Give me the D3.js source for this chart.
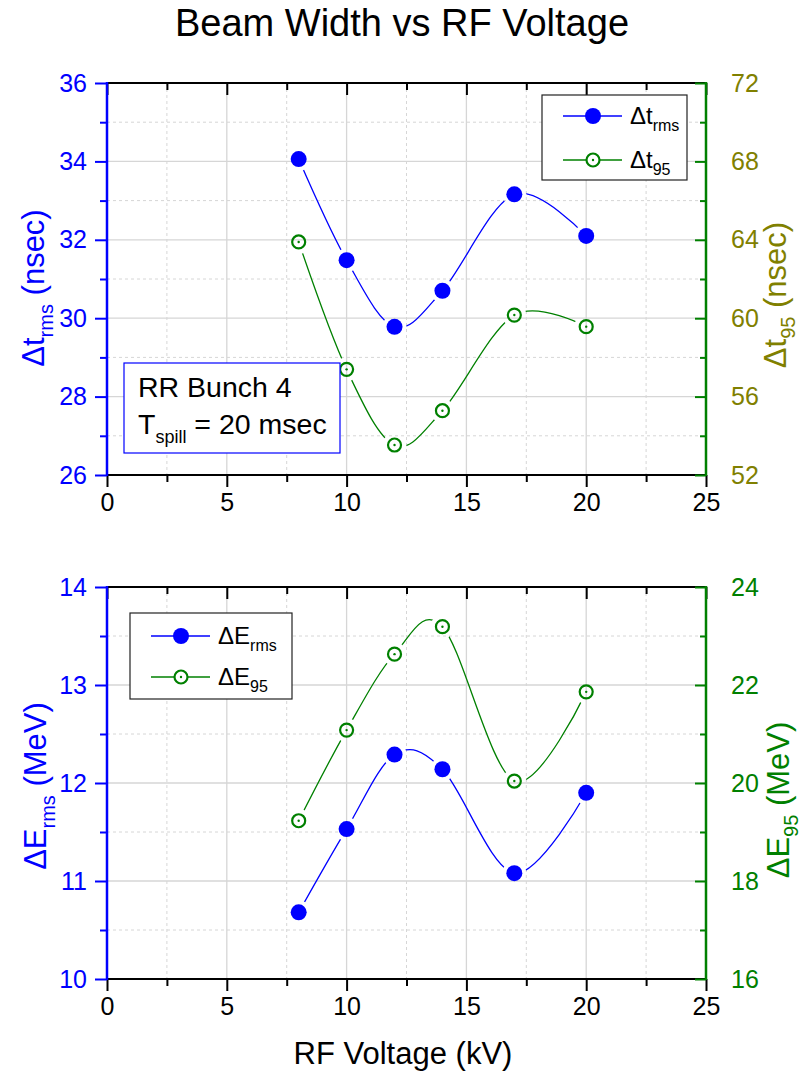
<!DOCTYPE html>
<html>
<head>
<meta charset="utf-8">
<script src="https://cdn.jsdelivr.net/npm/d3@7"></script>
<style>
  html, body { margin: 0; padding: 0; background: #fff; }
  svg { display: block; font-family: "Liberation Sans", Arial, sans-serif; }
</style>
</head>
<body>
<svg id="chart" width="805" height="1075"></svg>
<script>
// ---- data ----
const voltage = [8, 10, 12, 14, 17, 20];
const dtRms   = [34.06, 31.48, 29.78, 30.70, 33.16, 32.10];
const dt95    = [63.89, 57.39, 53.53, 55.28, 60.16, 59.57];
const dERms   = [10.68, 11.53, 12.29, 12.14, 11.08, 11.90];
const dE95    = [19.23, 21.08, 22.63, 23.19, 20.04, 21.86];

const xTicks = [0, 5, 10, 15, 20, 25];
const xMinor = [2.5, 7.5, 12.5, 17.5, 22.5];
const tLeftTicks  = [26, 28, 30, 32, 34, 36];
const tLeftMinor  = [27, 29, 31, 33, 35];
const tRightTicks = [52, 56, 60, 64, 68, 72];
const tRightMinor = [54, 58, 62, 66, 70];
const eLeftTicks  = [10, 11, 12, 13, 14];
const eLeftMinor  = [10.5, 11.5, 12.5, 13.5];
const eRightTicks = [16, 18, 20, 22, 24];
const eRightMinor = [17, 19, 21, 23];

const chartTitle = "Beam Width vs RF Voltage";
const xTitle = "RF Voltage (kV)";

// ---- layout ----
const svg = d3.select("#chart");
const X0 = 107, X1 = 706;
const BLUE = "#0000ff", GREEN = "#008000", OLIVE = "#808000";
const FONT_TICK = 25;

const x = d3.scaleLinear().domain([0, 25]).range([X0, X1]);

svg.append("text").attr("x", 402).attr("y", 36).attr("text-anchor", "middle")
  .attr("font-size", 38).attr("fill", "#000").text(chartTitle);

svg.append("text").attr("x", 403).attr("y", 1064).attr("text-anchor", "middle")
  .attr("font-size", 31).attr("fill", "#000").text(xTitle);

function subText(sel, main, sub, rest, size, subSize) {
  sel.append("tspan").text(main);
  sel.append("tspan").attr("font-size", subSize).attr("dy", size * 0.3).text(sub);
  if (rest) sel.append("tspan").attr("dy", -size * 0.3).text(rest);
}

let maskId = 0;
function panel(cfg) {
  const g = svg.append("g");
  const yL = d3.scaleLinear().domain(cfg.leftDomain).range([cfg.y1, cfg.y0]);
  const yR = d3.scaleLinear().domain(cfg.rightDomain).range([cfg.y1, cfg.y0]);

  // grid
  const grid = g.append("g");
  xMinor.forEach(v => grid.append("line").attr("x1", x(v)).attr("x2", x(v))
    .attr("y1", cfg.y0).attr("y2", cfg.y1).attr("stroke", "#d6d6d6").attr("stroke-dasharray", "3,3"));
  cfg.leftMinor.forEach(v => grid.append("line").attr("x1", X0).attr("x2", X1)
    .attr("y1", yL(v)).attr("y2", yL(v)).attr("stroke", "#d6d6d6").attr("stroke-dasharray", "3,3"));
  xTicks.forEach(v => grid.append("line").attr("x1", x(v)).attr("x2", x(v))
    .attr("y1", cfg.y0).attr("y2", cfg.y1).attr("stroke", "#d6d6d6").attr("stroke-width", 1.3));
  cfg.leftTicks.forEach(v => grid.append("line").attr("x1", X0).attr("x2", X1)
    .attr("y1", yL(v)).attr("y2", yL(v)).attr("stroke", "#d6d6d6").attr("stroke-width", 1.3));

  // series
  const series = [
    { vals: cfg.left, y: yL, color: BLUE, filled: true },
    { vals: cfg.right, y: yR, color: GREEN, filled: false }
  ];
  series.forEach(s => {
    const pts = voltage.map((v, i) => [x(v), s.y(s.vals[i])]);
    const id = "m" + (maskId++);
    const mask = svg.append("defs").append("mask").attr("id", id)
      .attr("maskUnits", "userSpaceOnUse").attr("x", 0).attr("y", 0).attr("width", 805).attr("height", 1075);
    mask.append("rect").attr("width", 805).attr("height", 1075).attr("fill", "#fff");
    pts.forEach(p => mask.append("circle").attr("cx", p[0]).attr("cy", p[1]).attr("r", 12).attr("fill", "#000"));
    const line = d3.line().curve(d3.curveCatmullRom.alpha(0));
    g.append("path").attr("d", line(pts)).attr("fill", "none")
      .attr("stroke", s.color).attr("stroke-width", 1.3).attr("mask", `url(#${id})`);
    pts.forEach(p => {
      if (s.filled) {
        g.append("circle").attr("cx", p[0]).attr("cy", p[1]).attr("r", 8).attr("fill", s.color);
      } else {
        g.append("circle").attr("cx", p[0]).attr("cy", p[1]).attr("r", 6.5)
          .attr("fill", "none").attr("stroke", s.color).attr("stroke-width", 2.2);
        g.append("circle").attr("cx", p[0]).attr("cy", p[1]).attr("r", 1.2).attr("fill", s.color);
      }
    });
  });

  // bottom axis
  const bottom = g.append("g").attr("transform", `translate(0,${cfg.y1})`)
    .call(d3.axisBottom(x).tickValues(xTicks).tickSize(12).tickPadding(6).tickFormat(d3.format("d")));
  bottom.select(".domain").remove();
  bottom.selectAll("line").attr("stroke", "#000").attr("stroke-width", 2);
  bottom.selectAll("text").attr("font-size", FONT_TICK).attr("font-family", "Liberation Sans, Arial, sans-serif").attr("fill", "#000");
  const bMinor = g.append("g").attr("transform", `translate(0,${cfg.y1})`)
    .call(d3.axisBottom(x).tickValues(xMinor).tickSize(7).tickFormat(""));
  bMinor.select(".domain").remove();
  bMinor.selectAll("line").attr("stroke", "#000").attr("stroke-width", 2);

  // top axis (inward ticks)
  const top = g.append("g").attr("transform", `translate(0,${cfg.y0})`)
    .call(d3.axisTop(x).tickValues(xTicks).tickSize(-12).tickFormat(""));
  top.select(".domain").remove();
  top.selectAll("line").attr("stroke", "#000").attr("stroke-width", 2);
  const tMinor = g.append("g").attr("transform", `translate(0,${cfg.y0})`)
    .call(d3.axisTop(x).tickValues(xMinor).tickSize(-7).tickFormat(""));
  tMinor.select(".domain").remove();
  tMinor.selectAll("line").attr("stroke", "#000").attr("stroke-width", 2);

  g.append("line").attr("x1", X0).attr("x2", X1).attr("y1", cfg.y1).attr("y2", cfg.y1)
    .attr("stroke", "#000").attr("stroke-width", 2.2);
  g.append("line").attr("x1", X0).attr("x2", X1).attr("y1", cfg.y0).attr("y2", cfg.y0)
    .attr("stroke", "#000").attr("stroke-width", 2.2);

  // left axis
  const left = g.append("g").attr("transform", `translate(${X0},0)`)
    .call(d3.axisLeft(yL).tickValues(cfg.leftTicks).tickSize(12).tickPadding(8).tickFormat(d3.format("d")));
  left.select(".domain").remove();
  left.selectAll("line").attr("stroke", BLUE).attr("stroke-width", 2);
  left.selectAll("text").attr("font-size", FONT_TICK).attr("font-family", "Liberation Sans, Arial, sans-serif").attr("fill", BLUE);
  const lMinor = g.append("g").attr("transform", `translate(${X0},0)`)
    .call(d3.axisLeft(yL).tickValues(cfg.leftMinor).tickSize(7).tickFormat(""));
  lMinor.select(".domain").remove();
  lMinor.selectAll("line").attr("stroke", BLUE).attr("stroke-width", 2);
  g.append("line").attr("x1", X0).attr("x2", X0).attr("y1", cfg.y0 - 1).attr("y2", cfg.y1 + 1)
    .attr("stroke", BLUE).attr("stroke-width", 2.5);

  // right axis (inward ticks)
  const right = g.append("g").attr("transform", `translate(${X1},0)`)
    .call(d3.axisRight(yR).tickValues(cfg.rightTicks).tickSize(-11).tickPadding(25).tickFormat(d3.format("d")));
  right.select(".domain").remove();
  right.selectAll("line").attr("stroke", GREEN).attr("stroke-width", 2);
  right.selectAll("text").attr("font-size", FONT_TICK).attr("font-family", "Liberation Sans, Arial, sans-serif").attr("fill", cfg.rightLabelColor);
  const rMinor = g.append("g").attr("transform", `translate(${X1},0)`)
    .call(d3.axisRight(yR).tickValues(cfg.rightMinor).tickSize(-6).tickFormat(""));
  rMinor.select(".domain").remove();
  rMinor.selectAll("line").attr("stroke", GREEN).attr("stroke-width", 2);
  g.append("line").attr("x1", X1).attr("x2", X1).attr("y1", cfg.y0 - 1).attr("y2", cfg.y1 + 1)
    .attr("stroke", GREEN).attr("stroke-width", 2.5);

  // axis titles
  const lt = g.append("text").attr("transform", `translate(${cfg.leftTitleX},${cfg.leftTitleY}) rotate(-90)`)
    .attr("text-anchor", "middle").attr("font-size", 31).attr("fill", BLUE);
  subText(lt, cfg.leftTitle[0], cfg.leftTitle[1], cfg.leftTitle[2], 31, 20);
  const rt = g.append("text").attr("transform", `translate(${cfg.rightTitleX},${cfg.rightTitleY}) rotate(-90)`)
    .attr("text-anchor", "middle").attr("font-size", 31).attr("fill", cfg.rightLabelColor);
  subText(rt, cfg.rightTitle[0], cfg.rightTitle[1], cfg.rightTitle[2], 31, 20);

  // legend
  const L = cfg.legend;
  g.append("rect").attr("x", L.x).attr("y", L.y).attr("width", L.w).attr("height", L.h)
    .attr("fill", "#fff").attr("stroke", "#222").attr("stroke-width", 1.2);
  L.items.forEach((it, i) => {
    const cy = L.y + L.rowY[i];
    const lx0 = L.x + 21, lx1 = L.x + 80, mx = L.x + 51;
    g.append("line").attr("x1", lx0).attr("x2", lx1).attr("y1", cy).attr("y2", cy)
      .attr("stroke", it.color).attr("stroke-width", 1.3);
    if (it.filled) {
      g.append("circle").attr("cx", mx).attr("cy", cy).attr("r", 8).attr("fill", it.color);
    } else {
      g.append("circle").attr("cx", mx).attr("cy", cy).attr("r", 6.5).attr("fill", "#fff")
        .attr("stroke", it.color).attr("stroke-width", 2.2);
      g.append("circle").attr("cx", mx).attr("cy", cy).attr("r", 1.2).attr("fill", it.color);
    }
    const t = g.append("text").attr("x", L.x + 88).attr("y", cy + 8).attr("font-size", 24).attr("fill", "#000");
    subText(t, it.label[0], it.label[1], null, 24, 16);
  });
}

panel({
  y0: 83, y1: 475,
  leftDomain: [26, 36], rightDomain: [52, 72],
  leftTicks: tLeftTicks, leftMinor: tLeftMinor,
  rightTicks: tRightTicks, rightMinor: tRightMinor,
  left: dtRms, right: dt95,
  rightLabelColor: OLIVE,
  leftTitle: ["\u0394t", "rms", " (nsec)"], leftTitleX: 44, leftTitleY: 288,
  rightTitle: ["\u0394t", "95", " (nsec)"], rightTitleX: 786, rightTitleY: 295,
  legend: { x: 542, y: 95, w: 145, h: 85, rowY: [21, 65],
    items: [ { color: BLUE, filled: true, label: ["\u0394t", "rms"] },
             { color: GREEN, filled: false, label: ["\u0394t", "95"] } ] }
});

panel({
  y0: 587, y1: 979,
  leftDomain: [10, 14], rightDomain: [16, 24],
  leftTicks: eLeftTicks, leftMinor: eLeftMinor,
  rightTicks: eRightTicks, rightMinor: eRightMinor,
  left: dERms, right: dE95,
  rightLabelColor: GREEN,
  leftTitle: ["\u0394E", "rms", " (MeV)"], leftTitleX: 46, leftTitleY: 786,
  rightTitle: ["\u0394E", "95", " (MeV)"], rightTitleX: 789, rightTitleY: 800,
  legend: { x: 130, y: 613, w: 162, h: 86, rowY: [23, 64],
    items: [ { color: BLUE, filled: true, label: ["\u0394E", "rms"] },
             { color: GREEN, filled: false, label: ["\u0394E", "95"] } ] }
});

// annotation box in top panel
const ann = svg.append("g");
ann.append("rect").attr("x", 124).attr("y", 363).attr("width", 216).attr("height", 90)
  .attr("fill", "#fff").attr("stroke", BLUE).attr("stroke-width", 1.2);
ann.append("text").attr("x", 138).attr("y", 397).attr("font-size", 28.5).attr("fill", "#000").text("RR Bunch 4");
const t2 = ann.append("text").attr("x", 138).attr("y", 434).attr("font-size", 28.5).attr("fill", "#000");
subText(t2, "T", "spill", " = 20 msec", 28.5, 18);
</script>
</body>
</html>
